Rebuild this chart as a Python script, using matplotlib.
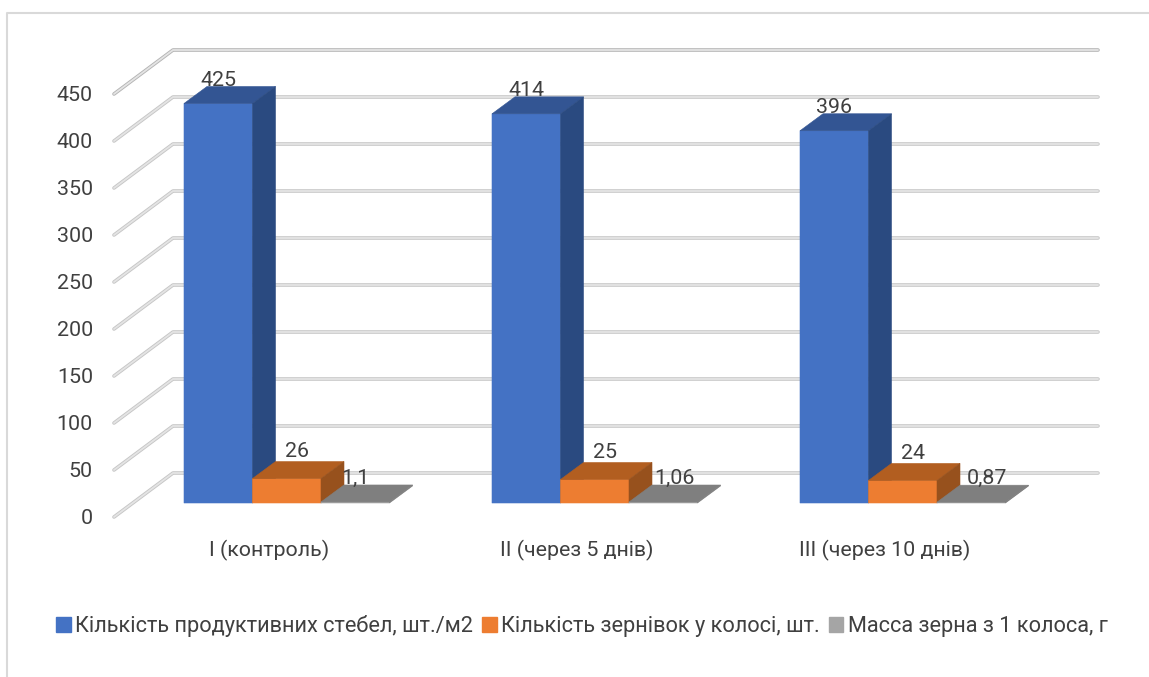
import matplotlib
matplotlib.use('Agg')
import matplotlib.pyplot as plt
from matplotlib.patches import Patch

plt.rcParams['font.family'] = ['Roboto', 'DejaVu Sans']

# --- Data ---
groups = ['I (контроль)', 'II (через 5 днів)', 'III (через 10 днів)']
series_names = ['Кількість продуктивних стебел, шт./м2',
                'Кількість зернівок у колосі, шт.',
                'Масса зерна з 1 колоса, г']
stems = [425, 414, 396]
grains = [26, 25, 24]
mass = [1.1, 1.06, 0.87]
stem_labels = ['425', '414', '396']
grain_labels = ['26', '25', '24']
mass_labels = ['1,1', '1,06', '0,87']
y_ticks = [0, 50, 100, 150, 200, 250, 300, 350, 400, 450]

# --- Scale: one category is 308 px wide, one value unit is 0.94 px tall ---
px_x = 1 / 308
px_v = 1 / 0.94

# face colours: front, top, side
blue = ('#4472C4', '#335593', '#2A4A80')
orange = ('#ED7D31', '#B25E20', '#97511D')
gray = ('#A5A5A5', '#7F7F7F', '#7F7F7F')
legend_gray = '#A5A5A5'
text_color = '#404040'
font_size = 15.4

fig = plt.figure(figsize=(11.49, 6.77), dpi=100)
ax = fig.add_axes([0, 0, 1, 1])
ax.set_xlim(-286.75 * px_x, (1149 - 286.75) * px_x)
ax.set_ylim((503 - 677) * px_v, 503 * px_v)
ax.axis('off')

# outer chart frame, top and left edges only
ax.plot([7 / 1149, 7 / 1149, 1], [0, 664 / 677, 664 / 677], transform=ax.transAxes,
        color='#D9D9D9', lw=1.5, zorder=1)

bar_w = 68.5 * px_x
depth_x = 23 * px_x
depth_v = 17 * px_v

# oblique floor: where the wall and the front edge sit relative to the bar fronts
wall_v = 30 * px_v
front_v = -14 * px_v
wall_left = (173 - 286.75) * px_x
front_left = (114 - 286.75) * px_x
wall_right = (1098 - 286.75) * px_x
label_right = (93 - 286.75) * px_x
mass_label_dx = [34, 45, 50]


def draw_bar(x, v, colors):
    # front face, then the top and side of the box
    ax.fill([x, x + bar_w, x + bar_w, x], [0, 0, v, v],
            color=colors[0], lw=0.4, zorder=5, snap=False)
    ax.fill([x, x + bar_w, x + bar_w + depth_x, x + depth_x],
            [v, v, v + depth_v, v + depth_v], color=colors[1], lw=0.4, zorder=5, snap=False)
    ax.fill([x + bar_w, x + bar_w + depth_x, x + bar_w + depth_x, x + bar_w],
            [0, depth_v, v + depth_v, v], color=colors[2], lw=0.4, zorder=5, snap=False)


# gridlines on the wall with their slanted part over the side wall
for v in y_ticks:
    xs = [front_left, wall_left, wall_right]
    ys = [v + front_v, v + wall_v, v + wall_v]
    edge = '#B4B4B4' if v == 450 else '#C6C6C6'
    ax.plot(xs, ys, color=edge, lw=2.6, solid_capstyle='round',
            solid_joinstyle='round', zorder=2)
    ax.plot(xs, ys, color='#E4E4E4', lw=1.3, solid_capstyle='round',
            solid_joinstyle='round', zorder=3)
    ax.text(label_right, v + front_v - 1 * px_v, str(v), ha='right', va='center',
            fontsize=font_size, color=text_color, zorder=8)

for i, group in enumerate(groups):
    left = i - 1.5 * bar_w
    draw_bar(left, stems[i], blue)
    draw_bar(left + bar_w, grains[i], orange)
    draw_bar(left + 2 * bar_w, mass[i], gray)

    ax.text(left + 34 * px_x, stems[i] + 23 * px_v, stem_labels[i], ha='center', va='center',
            fontsize=font_size, color=text_color, zorder=8)
    ax.text(left + bar_w + 45 * px_x, grains[i] + 27 * px_v, grain_labels[i], ha='center',
            va='center', fontsize=font_size, color=text_color, zorder=8)
    ax.text(left + 2 * bar_w + mass_label_dx[i] * px_x, 25 * px_v, mass_labels[i], ha='center',
            va='center', fontsize=font_size, color=text_color, zorder=8)
    ax.text(i - 18 * px_x, -47 * px_v, group, ha='center', va='center',
            fontsize=font_size, color=text_color, zorder=8)

handles = [Patch(color=blue[0]), Patch(color=orange[0]), Patch(color=legend_gray)]
ax.legend(handles, series_names, ncol=3, loc='center', frameon=False,
          bbox_to_anchor=(582 / 1149, 1 - 626 / 677), fontsize=15.7, labelcolor=text_color,
          handlelength=0.66, handleheight=0.66, handletextpad=0.2, columnspacing=0.42,
          borderpad=0, borderaxespad=0)

fig.savefig('out.png', dpi=100)
